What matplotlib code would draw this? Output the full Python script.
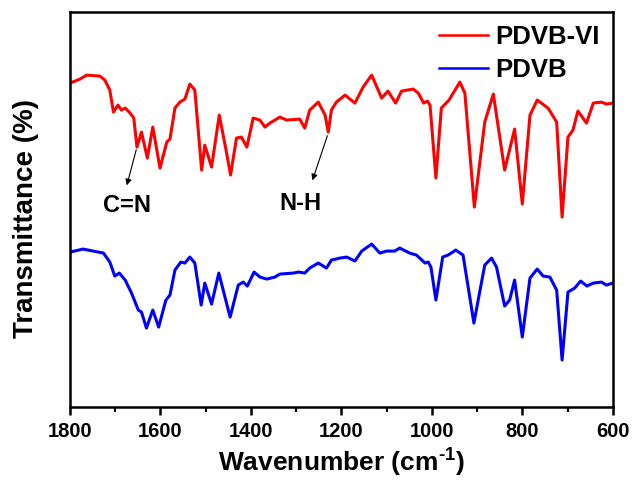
import matplotlib
matplotlib.use("Agg")
import matplotlib.pyplot as plt
from matplotlib.ticker import MultipleLocator

plt.rcParams['font.family'] = ['Liberation Sans', 'DejaVu Sans']
plt.rcParams['font.weight'] = 'bold'
plt.rcParams['mathtext.fontset'] = 'custom'
plt.rcParams['mathtext.bf'] = 'Liberation Sans:bold'
plt.rcParams['mathtext.rm'] = 'Liberation Sans:bold'

# FTIR spectra (arbitrary transmittance units)
wn_pdvb_vi = [1800, 1778, 1763, 1734, 1723, 1712, 1704, 1694, 1686, 1678, 1667, 1659,
              1652, 1642, 1629, 1617, 1601, 1586, 1579, 1568, 1557, 1546, 1535, 1524,
              1509, 1502, 1487, 1470, 1455, 1445, 1432, 1421, 1409, 1395, 1380, 1369,
              1358, 1336, 1321, 1292, 1281, 1270, 1251, 1236, 1229, 1222, 1211, 1192,
              1170, 1152, 1133, 1111, 1097, 1080, 1067, 1041, 1030, 1018, 1010, 1004,
              991, 979, 962, 938, 927, 906, 883, 864, 839, 817, 800, 783, 767, 743,
              724, 712, 699, 688, 677, 658, 643, 625, 614, 600]
t_pdvb_vi = [324, 328, 332, 331, 327, 317, 295, 302, 297, 299, 294, 289,
             260, 275, 249, 280, 239, 265, 268, 299, 305, 308, 323, 317,
             237, 262, 240, 292, 257, 232, 269, 270, 260, 289, 287, 280,
             284, 290, 287, 288, 279, 297, 305, 292, 275, 297, 305, 312,
             304, 320, 332, 309, 316, 304, 316, 318, 314, 304, 306, 302,
             229, 299, 307, 325, 314, 200, 285, 313, 237, 278, 203, 292, 307, 299,
             285, 190, 270, 277, 296, 284, 304, 305, 303, 304]

wn_pdvb = [1800, 1771, 1749, 1726, 1712, 1701, 1691, 1678, 1664, 1649, 1642, 1631,
           1617, 1604, 1588, 1579, 1568, 1555, 1546, 1535, 1524, 1510, 1502, 1487,
           1471, 1446, 1428, 1417, 1408, 1393, 1380, 1365, 1347, 1336, 1306, 1295,
           1281, 1270, 1251, 1233, 1222, 1203, 1188, 1170, 1155, 1133, 1115, 1100,
           1082, 1071, 1049, 1034, 1015, 1008, 1002, 991, 976, 964, 947, 931, 907,
           883, 868, 857, 839, 828, 817, 800, 783, 767, 754, 739, 724, 712, 699,
           684, 671, 657, 643, 625, 614, 600]
t_pdvb = [155, 158, 156, 154, 145, 131, 134, 127, 114, 97, 95, 79,
          97, 80, 107, 112, 137, 145, 144, 150, 144, 102, 124, 103,
          134, 90, 122, 125, 121, 135, 130, 128, 130, 133, 134, 135,
          134, 139, 144, 139, 147, 149, 150, 146, 156, 163, 154, 156,
          156, 159, 154, 152, 144, 145, 140, 107, 150, 152, 157, 152, 84,
          142, 149, 140, 101, 107, 127, 70, 129, 138, 131, 130, 117, 47, 115,
          119, 126, 121, 124, 125, 122, 124]

fig = plt.figure(figsize=(6.33, 4.84), dpi=100)
ax = fig.add_axes([0.1106, 0.159, 0.8574, 0.816])

ax.plot(wn_pdvb_vi, t_pdvb_vi, color='red', lw=2.2, label='PDVB-VI')
ax.plot(wn_pdvb, t_pdvb, color='blue', lw=2.2, label='PDVB')

ax.set_xlim(1800, 600)
ax.set_ylim(0, 395)
ax.xaxis.set_major_locator(MultipleLocator(200))
ax.xaxis.set_minor_locator(MultipleLocator(100))
ax.tick_params(axis='x', which='major', direction='out', length=6, width=1.8,
               labelsize=14.5, pad=5)
ax.tick_params(axis='x', which='minor', direction='out', length=3.5, width=1.5)
ax.set_yticks([])
for s in ax.spines.values():
    s.set_linewidth(1.8)

ax.set_xlabel('Wavenumber (cm$^{\\text{-1}}$)', fontsize=19, fontweight='bold', labelpad=3)
ax.set_ylabel('Transmittance (%)', fontsize=20, fontweight='bold')
ax.yaxis.set_label_coords(-0.058, 0.478)

# peak labels
ax.annotate('', xy=(1676, 219), xytext=(1652, 260),
            arrowprops=dict(arrowstyle='-|>', lw=0.8, color='black', mutation_scale=9))
ax.text(1675, 202, 'C=N', ha='center', va='center', fontsize=17, fontweight='bold')
ax.annotate('', xy=(1266, 224), xytext=(1229, 274),
            arrowprops=dict(arrowstyle='-|>', lw=0.8, color='black', mutation_scale=9))
ax.text(1290, 204, 'N-H', ha='center', va='center', fontsize=17, fontweight='bold')

leg = ax.legend(loc='upper right', frameon=False, fontsize=18.5, handlelength=1.9,
                handletextpad=0.3, labelspacing=0.35, borderaxespad=0.1,
                bbox_to_anchor=(1.0, 1.0))
for line in leg.get_lines():
    line.set_linewidth(1.8)

fig.savefig('out.png', dpi=100)
